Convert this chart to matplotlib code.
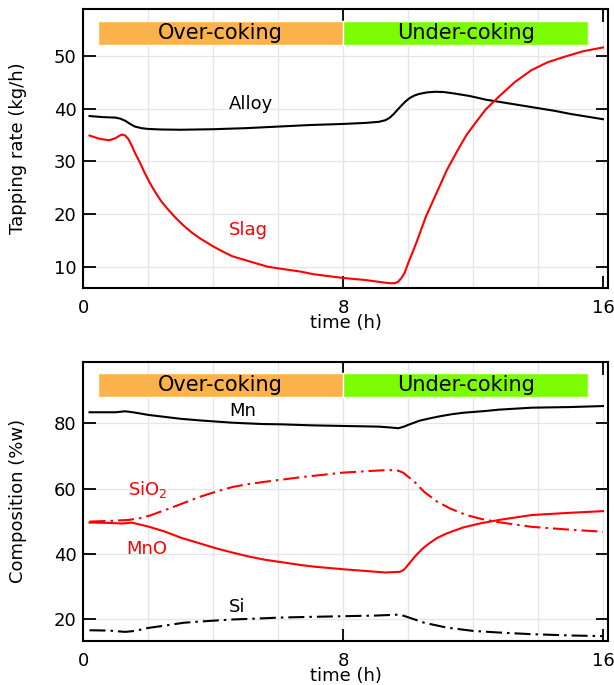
import matplotlib
matplotlib.use("Agg")
import matplotlib.pyplot as plt
from matplotlib.ticker import MultipleLocator, FixedLocator

plt.rcParams['font.family'] = ['DejaVu Sans']
plt.rcParams['font.size'] = 13

# --- data ---
phase_names = ['Over-coking', 'Under-coking']
phase_start = [0.45, 8.0]
phase_end = [8.0, 15.55]
phase_colors = ['#fbb24a', '#7cfc00']

t_alloy = [0.2, 0.6, 1.0, 1.15, 1.3, 1.45, 1.6, 1.8, 2.0, 2.4, 3.0, 4.0, 5.0, 6.0, 7.0, 8.0,
           8.7, 9.1, 9.3, 9.42, 9.55, 9.68, 9.8, 9.93, 10.05, 10.2, 10.35, 10.6, 10.85,
           11.1, 11.4, 11.9, 12.4, 13.0, 13.5, 14.0, 14.5, 15.0, 15.5, 16.0]
alloy = [38.6, 38.4, 38.3, 38.1, 37.7, 37.1, 36.6, 36.3, 36.15, 36.05, 36.0, 36.1, 36.3, 36.6, 36.9, 37.1,
         37.3, 37.5, 37.8, 38.2, 38.9, 39.8, 40.6, 41.4, 42.0, 42.5, 42.8, 43.1, 43.2,
         43.15, 42.9, 42.4, 41.7, 41.1, 40.6, 40.1, 39.6, 39.0, 38.5, 38.0]

t_slag = [0.2, 0.5, 0.8, 1.0, 1.1, 1.2, 1.3, 1.4, 1.5, 1.6, 1.75, 1.9, 2.05, 2.2, 2.4, 2.6,
          2.85, 3.1, 3.35, 3.6, 4.0, 4.3, 4.6, 5.2, 5.7, 6.7, 7.1, 8.0, 8.7, 9.3, 9.45,
          9.6, 9.7, 9.8, 9.9, 10.0, 10.25, 10.55, 10.9, 11.2, 11.5, 11.8, 12.1, 12.4,
          12.8, 13.3, 13.8, 14.3, 14.85, 15.4, 16.0]
slag = [34.9, 34.3, 34.0, 34.4, 34.8, 35.1, 34.9, 34.2, 33.0, 31.6, 29.8, 27.8, 26.0, 24.4, 22.5, 21.0,
        19.3, 17.8, 16.5, 15.4, 13.9, 12.9, 12.0, 10.9, 10.0, 9.1, 8.6, 7.9, 7.5, 7.0, 6.9,
        6.9, 7.2, 7.9, 8.9, 10.6, 14.45, 19.5, 24.3, 28.4, 31.8, 35.0, 37.5, 39.9,
        42.3, 45.1, 47.3, 48.8, 49.9, 50.9, 51.6]

t_mn = [0.2, 0.6, 1.0, 1.3, 1.6, 2.0, 2.5, 3.0, 3.6, 4.6, 5.5, 6.1, 7.0, 8.0, 9.1,
        9.5, 9.7, 9.85, 10.0, 10.35, 10.7, 11.0, 11.35, 11.7, 12.4, 12.8, 13.8, 15.0, 16.0]
mn = [83.4, 83.4, 83.4, 83.7, 83.3, 82.6, 82.0, 81.4, 80.9, 80.2, 79.8, 79.7, 79.4, 79.2, 79.0,
      78.7, 78.5, 78.9, 79.5, 80.8, 81.6, 82.2, 82.8, 83.25, 83.8, 84.2, 84.8, 85.0, 85.3]

t_sio2 = [0.2, 0.8, 1.4, 1.8, 2.1, 2.6, 3.1, 3.6, 4.1, 4.6, 5.1, 5.6, 6.7, 8.0, 9.0,
          9.4, 9.7, 9.85, 9.95, 10.2, 10.5, 10.9, 11.3, 11.8, 12.3, 12.8, 13.8, 15.0, 16.0]
sio2 = [49.9, 50.1, 50.4, 51.0, 51.9, 53.7, 55.6, 57.5, 59.1, 60.5, 61.4, 62.1, 63.5, 64.9, 65.5,
        65.7, 65.5, 64.9, 64.1, 62.1, 59.0, 56.0, 53.9, 51.9, 50.6, 49.7, 48.3, 47.4, 46.8]

t_mno = [0.2, 0.8, 1.2, 1.5, 2.0, 2.5, 3.0, 3.6, 4.1, 4.6, 5.1, 5.6, 6.7, 7.1, 8.0,
         9.3, 9.75, 9.87, 9.95, 10.1, 10.25, 10.45, 10.65, 10.9, 11.2, 11.7, 12.2, 12.8,
         13.8, 15.0, 16.0]
mno = [49.6, 49.5, 49.3, 49.6, 48.4, 46.9, 45.0, 43.2, 41.7, 40.4, 39.2, 38.2, 36.6, 36.1, 35.3,
       34.3, 34.5, 35.1, 36.0, 37.8, 39.6, 41.6, 43.2, 44.9, 46.3, 48.1, 49.3, 50.4,
       51.9, 52.6, 53.1]

t_si = [0.2, 0.8, 1.3, 1.6, 2.0, 2.5, 3.1, 3.8, 4.6, 5.4, 6.1, 7.0, 8.0, 9.0, 9.75,
        10.0, 10.5, 11.2, 12.0, 12.8, 13.8, 15.0, 16.0]
si = [16.6, 16.5, 16.1, 16.4, 17.3, 18.0, 18.9, 19.4, 19.9, 20.2, 20.5, 20.7, 20.9, 21.1, 21.4,
      20.6, 18.9, 17.4, 16.4, 15.9, 15.4, 15.0, 14.8]

dashdot = (0, (7.7, 2.4, 1.2, 2.4))

fig = plt.figure(figsize=(6.14, 6.85), dpi=100)
ax1 = fig.add_axes([0.1352, 0.5796, 0.8558, 0.4073])
ax2 = fig.add_axes([0.1352, 0.0642, 0.8558, 0.4078])


def style_axes(ax, ylim, ymajor, bar_y, bar_h):
    ax.set_xlim(0, 16.17)
    ax.set_ylim(*ylim)
    ax.xaxis.set_major_locator(FixedLocator([0, 8, 16]))
    ax.xaxis.set_minor_locator(MultipleLocator(2))
    ax.yaxis.set_major_locator(MultipleLocator(ymajor))
    ax.grid(True, which='both', color='#e6e6e6', lw=1.0, zorder=0)
    ax.set_axisbelow(True)
    ax.tick_params(which='major', direction='in', length=9, width=1.3,
                   top=True, right=True, labelsize=13, color='black')
    ax.tick_params(axis='x', which='major', pad=8)
    ax.tick_params(axis='y', which='major', pad=4.5)
    ax.tick_params(which='minor', length=0)
    for sp in ax.spines.values():
        sp.set_linewidth(1.5)
    ax.barh([bar_y] * len(phase_names),
            [e - s for s, e in zip(phase_start, phase_end)],
            left=phase_start, height=bar_h, color=phase_colors,
            edgecolor='white', linewidth=1.0, zorder=2)
    for name, s, e in zip(phase_names, phase_start, phase_end):
        ax.text((s + e) / 2, bar_y, name, ha='center', va='center',
                fontsize=15, zorder=3)
    ax.set_xlabel('time (h)', fontsize=13, labelpad=-2)


# --- top panel: tapping rates ---
ax1.plot(t_alloy, alloy, color='black', lw=1.5, zorder=4)
ax1.plot(t_slag, slag, color='red', lw=1.5, zorder=4)
ax1.text(5.17, 40.9, 'Alloy', color='black', ha='center', va='center', fontsize=13)
ax1.text(5.08, 16.9, 'Slag', color='red', ha='center', va='center', fontsize=13)
style_axes(ax1, (6, 58.9), 10, 54.3, 4.65)
ax1.set_ylabel('Tapping rate (kg/h)', fontsize=13)
ax1.yaxis.set_label_coords(-0.107, 0.5)

# --- bottom panel: composition ---
ax2.plot(t_mn, mn, color='black', lw=1.5, zorder=4)
ax2.plot(t_si, si, color='black', lw=1.5, linestyle=dashdot, zorder=4)
ax2.plot(t_mno, mno, color='red', lw=1.5, zorder=4)
ax2.plot(t_sio2, sio2, color='red', lw=1.5, linestyle=dashdot, zorder=4)
ax2.text(4.91, 83.9, 'Mn', color='black', ha='center', va='center', fontsize=13)
ax2.text(4.73, 23.8, 'Si', color='black', ha='center', va='center', fontsize=13)
ax2.text(2.0, 59.6, 'SiO$_2$', color='red', ha='center', va='center', fontsize=13)
ax2.text(1.96, 41.4, 'MnO', color='red', ha='center', va='center', fontsize=13)
style_axes(ax2, (13.3, 98.9), 20, 91.75, 7.5)
ax2.set_ylabel('Composition (%w)', fontsize=13)
ax2.yaxis.set_label_coords(-0.107, 0.5)

fig.savefig('out.png', dpi=100)
